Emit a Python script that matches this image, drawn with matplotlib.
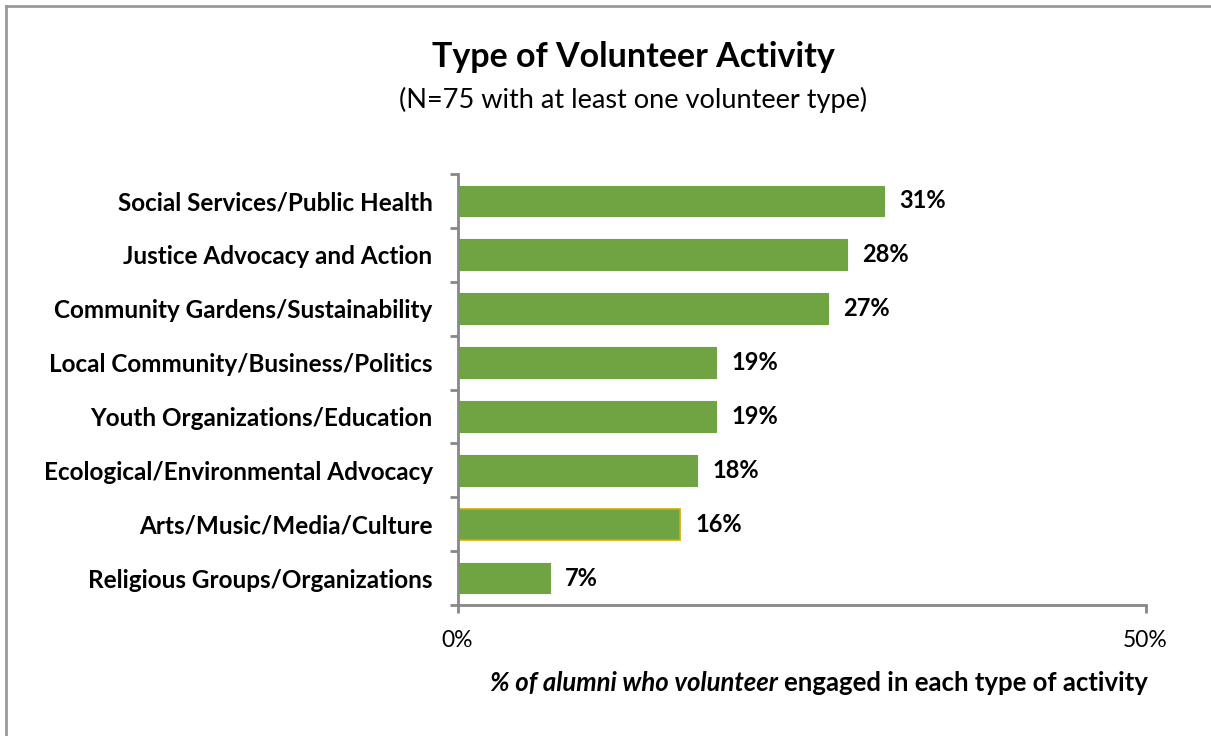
import numpy as np
import matplotlib.pyplot as plt
from matplotlib.lines import Line2D

plt.rcParams['font.family'] = ['Lato', 'DejaVu Sans']

categories = ['Social Services/Public Health', 'Justice Advocacy and Action',
              'Community Gardens/Sustainability', 'Local Community/Business/Politics',
              'Youth Organizations/Education', 'Ecological/Environmental Advocacy',
              'Arts/Music/Media/Culture', 'Religious Groups/Organizations']
# bar lengths, labels as printed
values = [31.0, 28.3, 26.9, 18.8, 18.8, 17.4, 16.2, 6.7]
value_labels = ['31%', '28%', '27%', '19%', '19%', '18%', '16%', '7%']
xticks = [0, 50]
xtick_labels = ['0%', '50%']

green = '#70A442'
axis_gray = '#888888'

fig = plt.figure(figsize=(12.11, 7.36), dpi=100)
ax = fig.add_axes([457.5 / 1211, 1 - 605 / 736, 688 / 1211, 431 / 736])

y = np.arange(len(categories))
bars = ax.barh(y, values, height=0.57, color=green, edgecolor=green, linewidth=0.8)
# the Arts bar has a yellow outline in the original
bars[6].set_edgecolor('#D4AA00')
bars[6].set_linewidth(1.2)

ax.set_ylim(len(categories) - 0.5, -0.5)
ax.set_xlim(0, 50)

for yi, v, lab in zip(y, values, value_labels):
    ax.annotate(lab, (v, yi), xytext=(11, 0), textcoords='offset points',
                va='center', ha='left', fontsize=17, fontweight='bold')

ax.set_yticks(y)
ax.set_yticklabels(categories, fontsize=17.5, fontweight='bold')
ax.set_yticks(np.arange(len(categories) + 1) - 0.5, minor=True)
ax.tick_params(axis='y', which='major', length=0, pad=18)
ax.tick_params(axis='y', which='minor', length=6, width=2, color=axis_gray)

ax.set_xticks(xticks)
ax.set_xticklabels(xtick_labels, fontsize=16.5)
ax.tick_params(axis='x', length=6, width=2, color=axis_gray, pad=12)

for s in ['top', 'right']:
    ax.spines[s].set_visible(False)
for s in ['left', 'bottom']:
    ax.spines[s].set_color(axis_gray)
    ax.spines[s].set_linewidth(2)

fig.text(633 / 1211, 1 - 57 / 736, 'Type of Volunteer Activity', ha='center', va='center',
         fontsize=24.5, fontweight='bold')
fig.text(633 / 1211, 1 - 100 / 736, '(N=75 with at least one volunteer type)', ha='center',
         va='center', fontsize=19.5)

# x label with mixed styling
t1 = fig.text(490 / 1211, 1 - 683 / 736, '% of alumni who volunteer', ha='left', va='center',
              fontsize=18.5, fontweight='bold', fontstyle='italic')
fig.canvas.draw()
bb = t1.get_window_extent()
fig.text(bb.x1 / fig.bbox.width + 6 / 1211, 1 - 683 / 736, 'engaged in each type of activity',
         ha='left', va='center', fontsize=18.5, fontweight='bold')

# outer frame (only left and top visible in the crop)
fig.add_artist(Line2D([6 / 1211, 6 / 1211], [0, 1 - 6 / 736], transform=fig.transFigure,
                      color='#999999', linewidth=2))
fig.add_artist(Line2D([6 / 1211, 1], [1 - 6 / 736, 1 - 6 / 736], transform=fig.transFigure,
                      color='#999999', linewidth=2))

fig.savefig('out.png', dpi=100)
